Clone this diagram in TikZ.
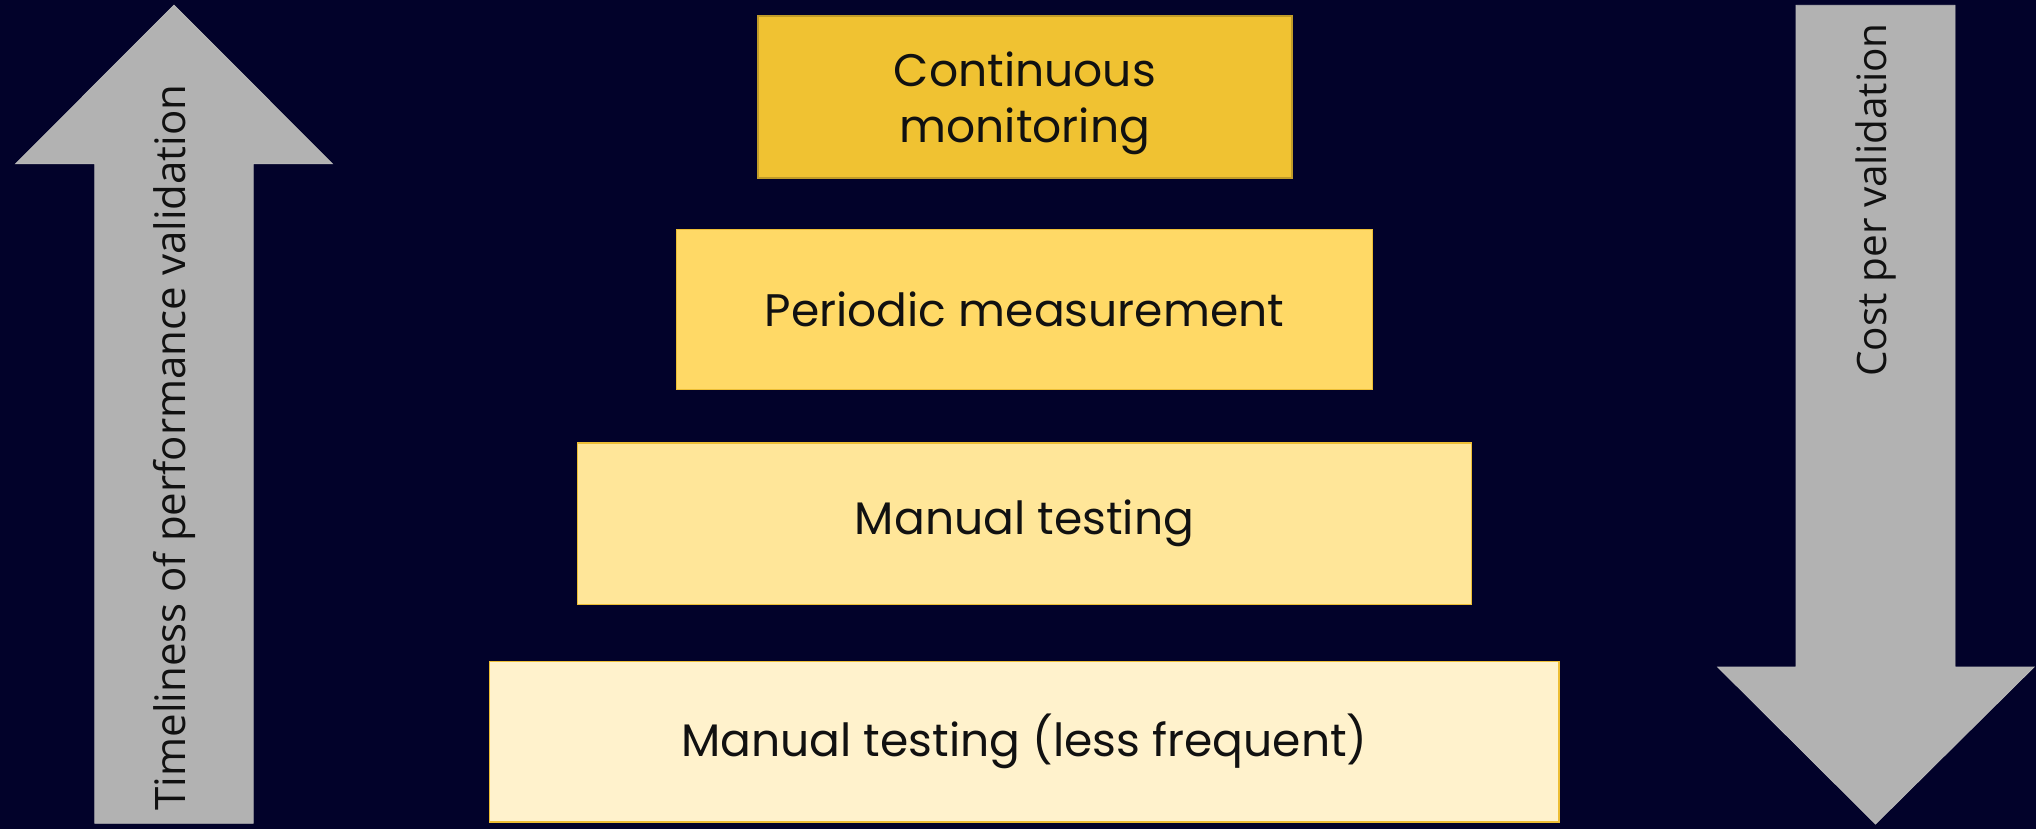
\documentclass[tikz,border=0pt]{standalone}
\usepackage{fontspec}
\setmainfont{Poppins}
\newfontfamily\arrowfont{Open Sans}
\definecolor{bg}{HTML}{02022A}
\definecolor{arrowgray}{HTML}{B2B2B2}
\definecolor{tierA}{HTML}{F0C232}
\definecolor{tierB}{HTML}{FFD966}
\definecolor{tierC}{HTML}{FFE699}
\definecolor{tierD}{HTML}{FFF2CC}
\definecolor{tierline}{HTML}{EDBE35}
\definecolor{txt}{HTML}{111111}
\tikzset{
  tierfont/.style={font=\fontsize{45.6}{56}\selectfont},
  tier/.style={draw=tierline, line width=1.5pt, text=txt, inner sep=0pt, align=center, tierfont},
  bigarrow/.style={fill=arrowgray, draw=arrowgray!90!white, line width=0.8pt},
  arrowlabel/.style={rotate=90, inner sep=0pt, text=txt}
}
\begin{document}
\begin{tikzpicture}[x=1pt,y=-1pt]
\fill[bg] (0,0) rectangle (2036,829);
\useasboundingbox (0,0) rectangle (2036,829);

% left arrow (up)
\draw[bigarrow] (94.8,823.3) -- (94.8,163.8) -- (15.6,163.8) -- (174,5.2) -- (332.4,163.8) -- (253.2,163.8) -- (253.2,823.3) -- cycle;
\node[arrowlabel, font=\arrowfont\fontsize{42}{50}\selectfont] (timeliness) at (174,447.5) {Timeliness of performance validation};

% right arrow (down)
\draw[bigarrow] (1796,5.3) -- (1955,5.3) -- (1955,667) -- (2034,667) -- (1875.5,824) -- (1717.7,667) -- (1796,667) -- cycle;
\node[arrowlabel, font=\arrowfont\fontsize{40.5}{48}\selectfont] (cost) at (1875.5,200) {Cost per validation};

% tiers
\node[tier, fill=tierA, draw=tierA!80!black, minimum width=534pt, minimum height=162pt] (cont) at (1024.9,96.9) {};
\node[text=txt, align=center, inner sep=0pt, tierfont] (contlabel) at ([yshift=-6pt]cont.center) {Continuous\\monitoring};
\node[tier, fill=tierB, minimum width=696pt, minimum height=160pt] (periodic) at (1024.5,309.5) {Periodic measurement};
\node[tier, fill=tierC, minimum width=894pt, minimum height=161.5pt] (manual) at (1024.5,523.7) {Manual testing};
\node[tier, fill=tierD, minimum width=1069.5pt, minimum height=160.5pt] (manualless) at (1024.3,741.7) {Manual testing (less frequent)};
\end{tikzpicture}
\end{document}
